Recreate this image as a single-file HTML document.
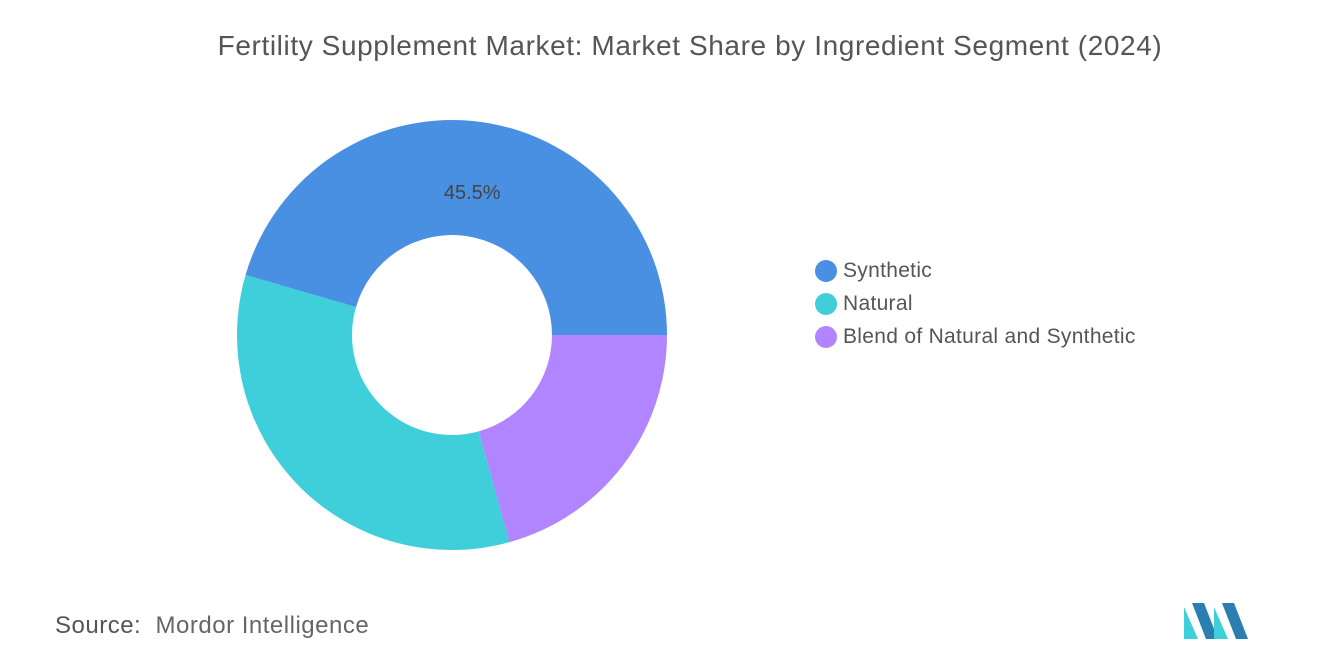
<!DOCTYPE html>
<html><head><meta charset="utf-8">
<style>
body{margin:0;width:1320px;height:665px;background:#fff;font-family:"Liberation Sans",sans-serif;overflow:hidden;position:relative}
#title{position:absolute;left:0;width:1380px;top:30px;text-align:center;font-size:28px;letter-spacing:0.6px;color:#555}
.leg{position:absolute;left:815px;font-size:21px;letter-spacing:0.3px;color:#555;display:flex;align-items:center}
.dot{width:22px;height:22px;border-radius:50%;margin-right:6px}
#src{position:absolute;left:55px;top:612px;font-size:24px;letter-spacing:0.5px;color:#666}
</style></head><body>
<div id="title">Fertility Supplement Market: Market Share by Ingredient Segment (2024)</div>
<svg id="chart" width="1320" height="665" style="position:absolute;left:0;top:0"></svg>
<div class="leg" style="top:259px"><div class="dot" style="background:#4a90e2"></div>Synthetic</div>
<div class="leg" style="top:292px"><div class="dot" style="background:#3ecfda"></div>Natural</div>
<div class="leg" style="top:325px"><div class="dot" style="background:#b085ff"></div>Blend of Natural and Synthetic</div>
<div id="src"><b style="font-weight:normal;color:#555">Source:</b>&nbsp; Mordor Intelligence</div>
<svg width="66" height="36" style="position:absolute;left:1184px;top:603px">
<polygon points="0,36 0,4 14,36" fill="#3ecfda"/><polygon points="8,0 20,0 34,36 22,36" fill="#2a7fb0"/><polygon points="30,36 30,4 44,36" fill="#3ecfda"/><polygon points="38,0 50,0 64,36 52,36" fill="#2a7fb0"/>
</svg>
<script>
const categories=["Synthetic","Natural","Blend of Natural and Synthetic"];
const values=[45.5,33.8,20.7];
const colors=["#4a90e2","#3ecfda","#b085ff"];
const labels=["45.5%","",""];
const svg=document.getElementById('chart');
const cx=452,cy=335,R=215,r=100;
const total=values.reduce((a,b)=>a+b,0);
let a0=0;
function pt(a,rad){return [cx+rad*Math.cos(a),cy-rad*Math.sin(a)];}
values.forEach((v,i)=>{
  const a1=a0+v/total*2*Math.PI;
  const large=(a1-a0)>Math.PI?1:0;
  const [x0,y0]=pt(a0,R),[x1,y1]=pt(a1,R),[x2,y2]=pt(a1,r),[x3,y3]=pt(a0,r);
  const p=document.createElementNS("http://www.w3.org/2000/svg","path");
  p.setAttribute('d',`M${x0},${y0} A${R},${R} 0 ${large} 0 ${x1},${y1} L${x2},${y2} A${r},${r} 0 ${large} 1 ${x3},${y3} Z`);
  p.setAttribute('fill',colors[i]);
  
  
  svg.appendChild(p);
  if(labels[i]){
    const am=(a0+a1)/2;const [lx,ly]=pt(am,(R+r)/2);
    const t=document.createElementNS("http://www.w3.org/2000/svg","text");
    t.setAttribute('x',lx-2);t.setAttribute('y',ly+20);t.setAttribute('text-anchor','middle');
    t.setAttribute('font-size','20');t.setAttribute('fill','#444');t.setAttribute('font-family','Liberation Sans, sans-serif');
    t.textContent=labels[i];
    
    
    svg.appendChild(t);
  }
  a0=a1;
});
</script>
</body></html>
